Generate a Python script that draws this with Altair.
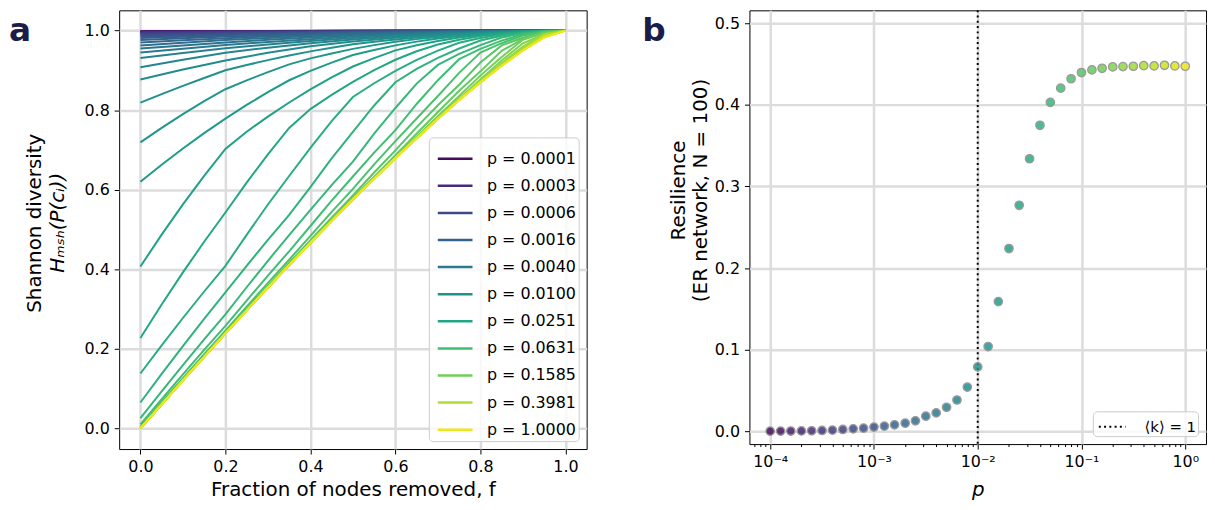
import altair as alt
import pandas as pd

# ---------------- Panel a data: Shannon diversity vs fraction removed ----------------
F_LOW = [0.0, 0.1, 0.2, 0.3, 0.4, 0.5, 0.6, 0.7, 0.8, 0.9, 1.0]
F_MID = [0.0, 0.05, 0.1, 0.15, 0.2, 0.25, 0.3, 0.35, 0.4, 0.45, 0.5,
         0.55, 0.6, 0.65, 0.7, 0.75, 0.8, 0.85, 0.9, 0.95, 1.0]
F_HIGH = [0.0, 0.1, 0.2, 0.3, 0.4, 0.5, 0.6, 0.7, 0.75, 0.8, 0.85, 0.9, 0.95, 1.0]

# lines k = 0..19 (p = 1e-4 ... 7.9e-3)
H_LOW = [
    [0.9985, 0.9988, 0.999, 0.9993, 0.9995, 0.9996, 0.9998, 0.9999, 0.9999, 1.0, 1.0],
    [0.9981, 0.9985, 0.9988, 0.9991, 0.9993, 0.9996, 0.9997, 0.9998, 0.9999, 1.0, 1.0],
    [0.9977, 0.9981, 0.9985, 0.9988, 0.9992, 0.9994, 0.9996, 0.9998, 0.9999, 1.0, 1.0],
    [0.997, 0.9976, 0.9982, 0.9985, 0.9989, 0.9993, 0.9995, 0.9997, 0.9998, 0.9999, 1.0],
    [0.9963, 0.9969, 0.9976, 0.9982, 0.9987, 0.9991, 0.9994, 0.9997, 0.9998, 0.9999, 1.0],
    [0.9953, 0.9962, 0.997, 0.9977, 0.9983, 0.9988, 0.9992, 0.9996, 0.9998, 0.9999, 1.0],
    [0.9941, 0.9952, 0.9962, 0.9971, 0.9979, 0.9985, 0.9991, 0.9995, 0.9998, 0.9999, 1.0],
    [0.9926, 0.994, 0.9953, 0.9964, 0.9973, 0.9982, 0.9988, 0.9993, 0.9997, 0.9999, 1.0],
    [0.9906, 0.9924, 0.994, 0.9953, 0.9966, 0.9977, 0.9985, 0.9992, 0.9996, 0.9999, 1.0],
    [0.9882, 0.9904, 0.9924, 0.9942, 0.9957, 0.9971, 0.9981, 0.999, 0.9995, 0.9999, 1.0],
    [0.985, 0.9879, 0.9905, 0.9927, 0.9946, 0.9963, 0.9976, 0.9987, 0.9994, 0.9999, 1.0],
    [0.9813, 0.9847, 0.9879, 0.9908, 0.9932, 0.9953, 0.997, 0.9983, 0.9993, 0.9998, 1.0],
    [0.9764, 0.9808, 0.985, 0.9883, 0.9914, 0.9941, 0.9962, 0.9979, 0.9991, 0.9998, 1.0],
    [0.9704, 0.9759, 0.981, 0.9854, 0.9893, 0.9925, 0.9953, 0.9973, 0.9988, 0.9997, 1.0],
    [0.9627, 0.9696, 0.9762, 0.9816, 0.9865, 0.9907, 0.994, 0.9966, 0.9985, 0.9996, 1.0],
    [0.955, 0.9627, 0.97, 0.9768, 0.983, 0.9882, 0.9925, 0.9957, 0.9981, 0.9995, 1.0],
    [0.945, 0.9546, 0.9638, 0.9714, 0.9786, 0.9852, 0.9905, 0.9947, 0.9976, 0.9994, 1.0],
    [0.931, 0.9437, 0.9557, 0.9653, 0.974, 0.9814, 0.9881, 0.9932, 0.997, 0.9993, 1.0],
    [0.908, 0.9267, 0.9442, 0.9571, 0.9683, 0.9775, 0.985, 0.9915, 0.9962, 0.9991, 1.0],
    [0.877, 0.9022, 0.9249, 0.9444, 0.9605, 0.9726, 0.9819, 0.9894, 0.9953, 0.9988, 1.0],
]

# lines k = 20..30 (p = 0.01 ... 0.1)
H_MID = [
    [0.819, 0.8404, 0.861, 0.8809, 0.9002, 0.9135, 0.9258, 0.9376, 0.9478, 0.9569, 0.9656,
     0.9719, 0.9779, 0.9827, 0.987, 0.9907, 0.9941, 0.9966, 0.9985, 0.9996, 1.0],
    [0.719, 0.7554, 0.7899, 0.8225, 0.8527, 0.875, 0.8956, 0.9152, 0.9303, 0.9425, 0.9541,
     0.9635, 0.9722, 0.9786, 0.9842, 0.9888, 0.9925, 0.9958, 0.9981, 0.9995, 1.0],
    [0.62, 0.6628, 0.7036, 0.7422, 0.7787, 0.8132, 0.8454, 0.8752, 0.899, 0.9195, 0.9387,
     0.9512, 0.9629, 0.9723, 0.9803, 0.9863, 0.991, 0.9947, 0.9976, 0.9994, 1.0],
    [0.407, 0.487, 0.5631, 0.635, 0.7026, 0.7458, 0.7839, 0.8193, 0.8523, 0.8826, 0.9098,
     0.9307, 0.9503, 0.963, 0.974, 0.9828, 0.989, 0.9935, 0.997, 0.9993, 1.0],
    [0.227, 0.3112, 0.3921, 0.4693, 0.5427, 0.6179, 0.6891, 0.7553, 0.8028, 0.8385, 0.8712,
     0.9008, 0.9268, 0.948, 0.9652, 0.9771, 0.9862, 0.9921, 0.9963, 0.9991, 1.0],
    [0.138, 0.2087, 0.2775, 0.3441, 0.4086, 0.4866, 0.5628, 0.6345, 0.705, 0.7723, 0.8331,
     0.8677, 0.899, 0.9265, 0.9497, 0.9694, 0.9816, 0.9901, 0.9955, 0.9988, 1.0],
    [0.065, 0.1368, 0.2069, 0.2751, 0.3417, 0.4088, 0.4739, 0.5365, 0.6067, 0.679, 0.7457,
     0.8118, 0.8703, 0.9036, 0.9317, 0.955, 0.9753, 0.987, 0.9945, 0.9985, 1.0],
    [0.026, 0.0931, 0.1589, 0.2235, 0.2867, 0.3548, 0.4214, 0.4858, 0.5493, 0.6114, 0.6707,
     0.7412, 0.8055, 0.8668, 0.9137, 0.9414, 0.9636, 0.9827, 0.9931, 0.9981, 1.0],
    [0.010, 0.0732, 0.1356, 0.1971, 0.2577, 0.3214, 0.384, 0.4452, 0.5088, 0.5724, 0.6333,
     0.6934, 0.75, 0.8156, 0.8754, 0.9282, 0.9542, 0.9749, 0.9908, 0.9978, 1.0],
    [0.004, 0.0656, 0.1264, 0.1866, 0.2459, 0.3062, 0.3657, 0.424, 0.4841, 0.5441, 0.602,
     0.6638, 0.7223, 0.7791, 0.8357, 0.8939, 0.9447, 0.9684, 0.9877, 0.9973, 1.0],
    [0.001, 0.0622, 0.1228, 0.1826, 0.2419, 0.3007, 0.3587, 0.4158, 0.473, 0.5298, 0.5855,
     0.6433, 0.699, 0.7573, 0.8123, 0.8639, 0.9197, 0.9628, 0.9819, 0.9966, 1.0],
]

# lines k = 31..40 (p = 0.126 ... 1)
H_HIGH = [
    [0.0, 0.1211, 0.2396, 0.356, 0.4695, 0.5788, 0.6868, 0.7955, 0.8486, 0.8976, 0.949, 0.9794, 0.9954, 1.0],
    [0.0, 0.1206, 0.2388, 0.3545, 0.4676, 0.5773, 0.682, 0.7851, 0.8357, 0.8869, 0.9339, 0.977, 0.9939, 1.0],
    [0.0, 0.1206, 0.2388, 0.3542, 0.4667, 0.5758, 0.6812, 0.7806, 0.8289, 0.8773, 0.9248, 0.9682, 0.991, 1.0],
    [0.0, 0.1206, 0.2388, 0.3542, 0.4666, 0.5753, 0.68, 0.7797, 0.8263, 0.8723, 0.9182, 0.9602, 0.9909, 1.0],
    [0.0, 0.1206, 0.2388, 0.3542, 0.4666, 0.5753, 0.6796, 0.7789, 0.8263, 0.8705, 0.914, 0.9563, 0.9908, 1.0],
    [0.0, 0.1206, 0.2388, 0.3542, 0.4666, 0.5753, 0.6796, 0.7784, 0.8256, 0.8707, 0.9124, 0.9525, 0.9883, 1.0],
    [0.0, 0.1206, 0.2388, 0.3542, 0.4666, 0.5753, 0.6796, 0.7784, 0.8253, 0.8701, 0.9123, 0.9506, 0.9858, 1.0],
    [0.0, 0.1206, 0.2388, 0.3542, 0.4666, 0.5753, 0.6796, 0.7784, 0.8253, 0.8699, 0.9121, 0.95, 0.9846, 1.0],
    [0.0, 0.1206, 0.2388, 0.3542, 0.4666, 0.5753, 0.6796, 0.7784, 0.8253, 0.8699, 0.9118, 0.9504, 0.9832, 1.0],
    [0.0, 0.1206, 0.2388, 0.3542, 0.4666, 0.5753, 0.6796, 0.7784, 0.8253, 0.8699, 0.9118, 0.9501, 0.9825, 1.0],
]

LEGEND_K = [0, 4, 8, 12, 16, 20, 24, 28, 32, 36, 40]
LEGEND_LABELS = ["p = 0.0001", "p = 0.0003", "p = 0.0006", "p = 0.0016", "p = 0.0040",
                 "p = 0.0100", "p = 0.0251", "p = 0.0631", "p = 0.1585", "p = 0.3981",
                 "p = 1.0000"]

# ---------------- Panel b data: resilience vs p ----------------
P_VALUES = [0.0001, 0.000126, 0.000158, 0.0002, 0.000251, 0.000316, 0.000398, 0.000501,
            0.000631, 0.000794, 0.001, 0.00126, 0.00158, 0.002, 0.00251, 0.00316, 0.00398,
            0.00501, 0.00631, 0.00794, 0.01, 0.0126, 0.0158, 0.02, 0.0251, 0.0316, 0.0398,
            0.0501, 0.0631, 0.0794, 0.1, 0.126, 0.158, 0.2, 0.251, 0.316, 0.398, 0.501,
            0.631, 0.794, 1.0]
RESILIENCE = [0.0003, 0.0004, 0.0005, 0.0006, 0.0008, 0.0012, 0.0016, 0.0024, 0.0032, 0.004,
              0.0053, 0.0065, 0.0081, 0.0101, 0.013, 0.0187, 0.0227, 0.0296, 0.0385, 0.0543,
              0.079, 0.104, 0.159, 0.224, 0.277, 0.334, 0.375, 0.403, 0.4205, 0.432,
              0.4396, 0.4428, 0.4448, 0.4465, 0.4469, 0.4473, 0.448, 0.4477, 0.4485, 0.4477,
              0.4473]
P_CRITICAL = [0.01]
CRIT_LABEL = ["⟨k⟩ = 1"]
LOG_TICK_LABELS = ["10⁻⁴", "10⁻³", "10⁻²", "10⁻¹", "10⁰"]

# ---------------- tables ----------------
rows = []
for i, vals in enumerate(H_LOW):
    rows += [{"k": i, "f": f, "H": h} for f, h in zip(F_LOW, vals)]
for i, vals in enumerate(H_MID):
    rows += [{"k": 20 + i, "f": f, "H": h} for f, h in zip(F_MID, vals)]
for i, vals in enumerate(H_HIGH):
    rows += [{"k": 31 + i, "f": f, "H": h} for f, h in zip(F_HIGH, vals)]
df_lines = pd.DataFrame(rows)

df_pts = pd.DataFrame({"k": list(range(len(P_VALUES))), "p": P_VALUES, "R": RESILIENCE})
df_crit = pd.DataFrame({"p": P_CRITICAL, "lab": CRIT_LABEL})

FONT = "DejaVu Sans"
GRID = "#dcdcdc"
TAG_COLOR = "#1c1c4a"

# ---------------- Panel a ----------------
W1, H1 = 471, 442
label_expr = "[" + ",".join("'%s'" % s for s in LEGEND_LABELS) + "][datum.value / 4]"

lines = alt.Chart(df_lines).mark_line(strokeWidth=2).encode(
    x=alt.X("f:Q",
            scale=alt.Scale(domain=[-0.05, 1.05], nice=False, zero=False),
            axis=alt.Axis(values=[0, 0.2, 0.4, 0.6, 0.8, 1.0], format=".1f",
                          title="Fraction of nodes removed, f",
                          titleX=W1 / 2, titleY=47, titleAlign="center",
                          titleBaseline="alphabetic", labelFlush=False)),
    y=alt.Y("H:Q",
            scale=alt.Scale(domain=[-0.052, 1.051], nice=False, zero=False),
            axis=alt.Axis(values=[0, 0.2, 0.4, 0.6, 0.8, 1.0], format=".1f",
                          title="Shannon diversity", titleAngle=270,
                          titleX=-85, titleY=214, titleAlign="center",
                          titleBaseline="middle", labelFlush=False)),
    color=alt.Color("k:O", scale=alt.Scale(scheme="viridis"),
                    legend=alt.Legend(title=None, orient="bottom-right", offset=8,
                                      values=LEGEND_K, labelExpr=label_expr,
                                      symbolType="stroke", symbolStrokeWidth=2.5,
                                      symbolSize=1225, symbolOffset=5,
                                      labelFontSize=16, labelFont=FONT,
                                      labelColor="black", rowPadding=0.3, padding=2.5,
                                      labelOffset=13,
                                      fillColor="rgba(255,255,255,0.8)",
                                      strokeColor="#cccccc", cornerRadius=4)),
)

ylab2 = alt.Chart(pd.DataFrame({"t": ["Hₘₛₕ(P(cᵢ))"]})).mark_text(
    angle=270, fontSize=20, fontStyle="italic", font=FONT, align="center",
    baseline="middle", color="black").encode(
    x=alt.value(-62), y=alt.value(214), text="t:N")

tag_a = alt.Chart(pd.DataFrame({"t": ["a"]})).mark_text(
    fontSize=33, fontWeight="bold", font=FONT, align="left", baseline="alphabetic",
    color=TAG_COLOR).encode(x=alt.value(-111), y=alt.value(31), text="t:N")

# invisible layout anchor: fixes the top extent of the figure above the plot frame
anchor = alt.Chart(pd.DataFrame({"t": [0]})).mark_rule(
    opacity=0, strokeWidth=1).encode(
    x=alt.value(0), x2=alt.value(20), y=alt.value(-12))

left = alt.layer(lines, ylab2, tag_a, anchor).properties(width=W1, height=H1)

# ---------------- Panel b ----------------
W2, H2 = 460, 437
major = "abs(log(datum.value)/LN10 - round(log(datum.value)/LN10)) < 0.01"
log_label_expr = (major + " ? [" + ",".join("'%s'" % s for s in LOG_TICK_LABELS)
                  + "][round(log(datum.value)/LN10) + 4] : ''")
tick_vals = [m * 10.0 ** e for e in range(-5, 1) for m in range(1, 10)
             if 6.4e-5 <= m * 10.0 ** e <= 1.0001]

xb = alt.X("p:Q",
           scale=alt.Scale(type="log", domain=[10 ** -4.2, 10 ** 0.2], nice=False),
           axis=alt.Axis(values=tick_vals, labelExpr=log_label_expr, title="p",
                         titleFontStyle="italic", titleX=W2 / 2, titleY=52,
                         titleAlign="center", titleBaseline="alphabetic",
                         labelOverlap=False, labelFlush=False,
                         tickSize={"condition": {"test": major, "value": 5}, "value": 2.5},
                         gridOpacity={"condition": {"test": major, "value": 1}, "value": 0}))

pts = alt.Chart(df_pts).mark_circle(size=72, stroke="#9a9a9a", strokeWidth=1.3,
                                     fillOpacity=0.85, opacity=1).encode(
    x=xb,
    y=alt.Y("R:Q",
            scale=alt.Scale(domain=[-0.0155, 0.5158], nice=False, zero=False),
            axis=alt.Axis(values=[0, 0.1, 0.2, 0.3, 0.4, 0.5], format=".1f",
                          title=["Resilience", "(ER network, N = 100)"],
                          titleAngle=270, titleX=-71, titleY=181, titleAlign="center",
                          titleBaseline="middle", titleLineHeight=22, labelFlush=False)),
    fill=alt.Fill("k:O", scale=alt.Scale(scheme="viridis"), legend=None),
)

crit = alt.Chart(df_crit).mark_rule(strokeDash=[2, 3.3], strokeWidth=2).encode(
    x=alt.X("p:Q"),
    stroke=alt.Stroke("lab:N", scale=alt.Scale(range=["black"]),
                      legend=alt.Legend(title=None, orient="bottom-right", offset=8,
                                        symbolType="stroke", symbolDash=[2, 3.3],
                                        symbolStrokeWidth=2, symbolSize=729,
                                        symbolOffset=4,
                                        labelFontSize=15, labelFont=FONT,
                                        labelColor="black", padding=1, labelOffset=18,
                                        fillColor="rgba(255,255,255,0.8)",
                                        strokeColor="#cccccc", cornerRadius=4)),
)

tag_b = alt.Chart(pd.DataFrame({"t": ["b"]})).mark_text(
    fontSize=33, fontWeight="bold", font=FONT, align="left", baseline="alphabetic",
    color=TAG_COLOR).encode(x=alt.value(-108), y=alt.value(31), text="t:N")

right = alt.layer(crit, pts, tag_b).properties(width=W2, height=H2)

chart = alt.hconcat(left, right, spacing=54).resolve_scale(
    color="independent", fill="independent", stroke="independent"
).resolve_legend(color="independent", stroke="independent").properties(
    padding={"top": -12.5, "left": 0, "right": 0, "bottom": 0}
).configure(font=FONT).configure_view(
    stroke="black", strokeWidth=1
).configure_axis(
    domain=False, grid=True, gridColor=GRID, gridWidth=2.5,
    tickColor="black", tickSize=5, tickWidth=1, labelPadding=5,
    labelFont=FONT, labelFontSize=16, labelColor="black",
    titleFont=FONT, titleFontSize=20, titleFontWeight="normal", titleColor="black",
)

chart.save("out.html", embed_options={"renderer": "svg", "actions": False})
